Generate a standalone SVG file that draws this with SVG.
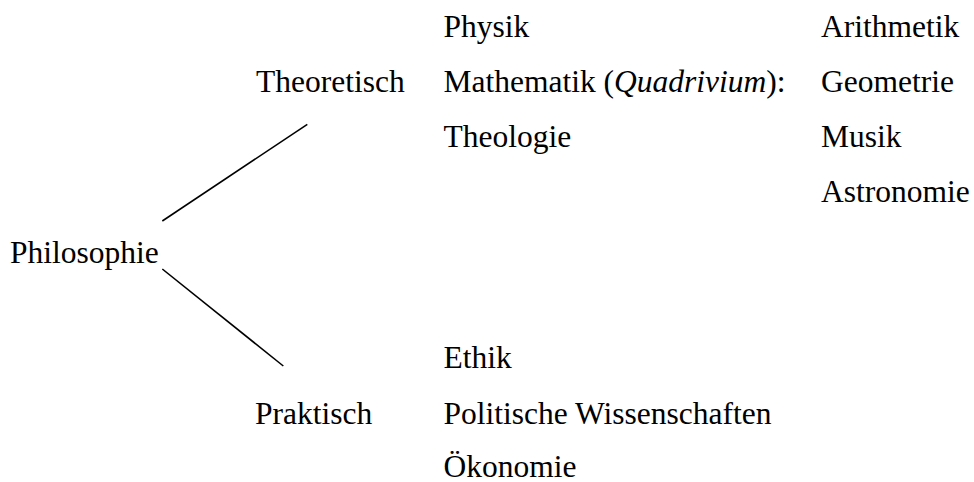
<svg xmlns="http://www.w3.org/2000/svg" width="974" height="482" viewBox="0 0 974 482">
<style>
text{font-size:31.5px;fill:#000}
.c line{stroke:#000;stroke-width:1.6}
</style>
<rect width="974" height="482" fill="#fff"/>
<g class="c" id="connectors">
<line x1="162.3" y1="221" x2="307.3" y2="124.3"/>
<line x1="162.3" y1="269" x2="283.3" y2="366"/>
</g>
<g font-family="Liberation Serif, serif">
<g id="philosophie"><text x="10" y="263.3">Philosophie</text></g>
<g id="theoretisch"><text x="256" y="91.7">Theoretisch</text></g>
<g id="praktisch"><text x="255" y="423.5">Praktisch</text></g>
<g id="theoretisch-items">
<text x="443.5" y="36.7">Physik</text>
<text x="443.5" y="91.7">Mathematik (<tspan font-style="italic">Quadrivium</tspan>):</text>
<text x="443.5" y="146.7">Theologie</text>
</g>
<g id="quadrivium">
<text x="821" y="36.7">Arithmetik</text>
<text x="821" y="91.7">Geometrie</text>
<text x="821" y="146.7">Musik</text>
<text x="821" y="201.7">Astronomie</text>
</g>
<g id="praktisch-items">
<text x="443.5" y="368.3">Ethik</text>
<text x="443.5" y="423.5">Politische Wissenschaften</text>
<text x="443.5" y="476.7">Ökonomie</text>
</g>
</g>
</svg>
